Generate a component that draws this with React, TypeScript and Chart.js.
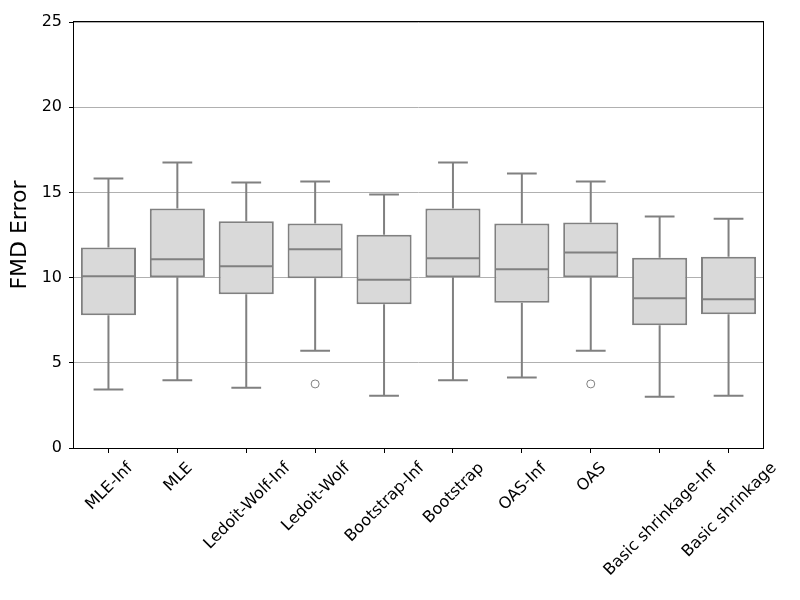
import React, { useEffect, useRef } from "react";
import { Chart, registerables } from "chart.js";

Chart.register(...registerables);

const categories = [
  "MLE-Inf",
  "MLE",
  "Ledoit-Wolf-Inf",
  "Ledoit-Wolf",
  "Bootstrap-Inf",
  "Bootstrap",
  "OAS-Inf",
  "OAS",
  "Basic shrinkage-Inf",
  "Basic shrinkage",
];
const whiskerLow = [3.44, 3.97, 3.54, 5.71, 3.07, 3.97, 4.13, 5.71, 3.01, 3.07];
const q1 = [7.79, 10.02, 9.02, 9.96, 8.43, 10.02, 8.53, 10.02, 7.2, 7.85];
const median = [10.08, 11.07, 10.66, 11.66, 9.88, 11.13, 10.49, 11.47, 8.79, 8.73];
const q3 = [11.76, 14.05, 13.31, 13.17, 12.52, 14.05, 13.17, 13.23, 11.17, 11.23];
const whiskerHigh = [15.81, 16.75, 15.58, 15.64, 14.87, 16.75, 16.11, 15.64, 13.58, 13.46];
const outliers: (number | null)[] = [null, null, null, 3.76, null, null, null, 3.76, null, null];
const yTicks = [0, 5, 10, 15, 20, 25];
const yLabel = "FMD Error";

const EDGE = "#808080";
const FILL = "#d9d9d9";
const FONT = '"DejaVu Sans", sans-serif';

const boxPlugin = {
  id: "boxParts",
  beforeDatasetsDraw(chart: any) {
    const { ctx, scales } = chart;
    const xs = scales.x;
    const ys = scales.y;
    const meta = chart.getDatasetMeta(0);
    ctx.save();
    ctx.strokeStyle = EDGE;
    ctx.lineWidth = 2;
    categories.forEach((_, i) => {
      const x = xs.getPixelForValue(i);
      const bw = meta.data[i] ? meta.data[i].width : 55;
      const cap = bw * 0.27;
      const yl = ys.getPixelForValue(whiskerLow[i]);
      const y1 = ys.getPixelForValue(q1[i]);
      const y3 = ys.getPixelForValue(q3[i]);
      const yh = ys.getPixelForValue(whiskerHigh[i]);
      ctx.beginPath();
      ctx.moveTo(x, yl);
      ctx.lineTo(x, y1);
      ctx.moveTo(x, y3);
      ctx.lineTo(x, yh);
      ctx.moveTo(x - cap, yl);
      ctx.lineTo(x + cap, yl);
      ctx.moveTo(x - cap, yh);
      ctx.lineTo(x + cap, yh);
      ctx.stroke();
    });
    ctx.restore();
  },
  afterDatasetsDraw(chart: any) {
    const { ctx, scales } = chart;
    const xs = scales.x;
    const ys = scales.y;
    const meta = chart.getDatasetMeta(0);
    ctx.save();
    ctx.strokeStyle = EDGE;
    ctx.lineWidth = 2;
    categories.forEach((_, i) => {
      const x = xs.getPixelForValue(i);
      const bw = meta.data[i] ? meta.data[i].width : 55;
      const ym = ys.getPixelForValue(median[i]);
      ctx.beginPath();
      ctx.moveTo(x - bw / 2 + 1, ym);
      ctx.lineTo(x + bw / 2 - 1, ym);
      ctx.stroke();
    });
    ctx.restore();
  },
  afterDraw(chart: any) {
    const { ctx, chartArea, scales } = chart;
    const xs = scales.x;
    ctx.save();
    ctx.strokeStyle = "#000";
    ctx.lineWidth = 1;
    ctx.strokeRect(
      Math.round(chartArea.left) - 0.5,
      Math.round(chartArea.top) - 0.5,
      Math.round(chartArea.right - chartArea.left) + 1,
      Math.round(chartArea.bottom - chartArea.top) + 1
    );
    // rotated x labels, centered on ticks
    const fs = 16;
    ctx.font = `${fs}px ${FONT}`;
    ctx.fillStyle = "#000";
    ctx.textAlign = "center";
    ctx.textBaseline = "alphabetic";
    const top = chartArea.bottom + 10;
    categories.forEach((lab, i) => {
      const x = xs.getPixelForValue(i);
      const w = ctx.measureText(lab).width;
      const h = fs * 1.164;
      const bb = (w + h) * Math.SQRT1_2;
      ctx.save();
      ctx.translate(x, top + bb / 2);
      ctx.rotate(-Math.PI / 4);
      ctx.fillText(lab, 0, fs * 0.346);
      ctx.restore();
    });
    ctx.restore();
  },
};

export default function App() {
  const ref = useRef<HTMLCanvasElement>(null);
  useEffect(() => {
    document.body.style.margin = "0";
    if (!ref.current) return;
    const chart = new Chart(ref.current, {
      type: "bar",
      data: {
        labels: categories,
        datasets: [
          {
            type: "bar",
            data: categories.map((_, i) => [q1[i], q3[i]]) as any,
            backgroundColor: FILL,
            borderColor: EDGE,
            borderWidth: 2,
            borderSkipped: false,
            categoryPercentage: 0.8,
            barPercentage: 1,
          } as any,
          {
            type: "line",
            data: outliers as any,
            showLine: false,
            pointRadius: 4,
            pointHoverRadius: 4,
            pointBackgroundColor: "rgba(0,0,0,0)",
            pointBorderColor: EDGE,
            pointBorderWidth: 1,
          } as any,
        ],
      },
      options: {
        responsive: false,
        animation: false,
        events: [],
        layout: { padding: { left: 0, top: 22, right: 37, bottom: 0 } },
        plugins: {
          legend: { display: false },
          tooltip: { enabled: false },
        },
        scales: {
          x: {
            type: "category",
            offset: true,
            grid: {
              display: true,
              offset: false,
              drawOnChartArea: false,
              drawTicks: true,
              tickLength: 5,
              tickColor: "#000",
              tickWidth: 1,
            },
            border: { display: false },
            ticks: { display: false },
            afterFit: (s: any) => {
              s.height = 152;
            },
          } as any,
          y: {
            min: 0,
            max: 25,
            afterBuildTicks: (s: any) => {
              s.ticks = yTicks.map((v) => ({ value: v }));
            },
            grid: {
              color: "#b0b0b0",
              lineWidth: 1,
              tickColor: "#000",
              tickLength: 5,
              tickWidth: 1,
            },
            border: { display: false },
            ticks: {
              color: "#000",
              padding: 7,
              font: { family: FONT, size: 16 },
            },
            title: {
              display: true,
              text: yLabel,
              color: "#000",
              font: { family: FONT, size: 22 },
              padding: { top: 7, bottom: 0 },
            },
            afterFit: (s: any) => {
              s.width = 74;
            },
          } as any,
        },
      },
      plugins: [boxPlugin],
    });
    return () => chart.destroy();
  }, []);
  return (
    <div style={{ position: "fixed", left: 0, top: 0, width: 800, height: 600, background: "#fff" }}>
      <canvas ref={ref} width={800} height={600} style={{ width: 800, height: 600 }} />
    </div>
  );
}
